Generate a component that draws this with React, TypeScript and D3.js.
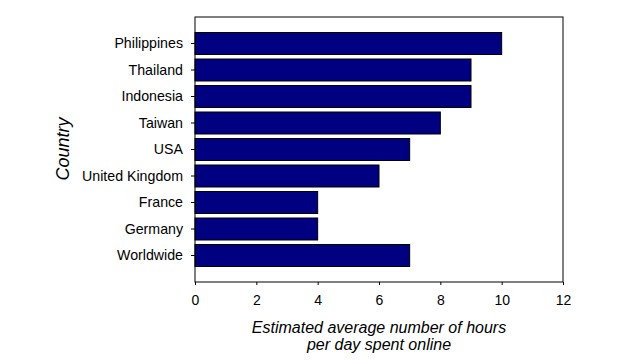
import * as d3 from 'd3';
import { useEffect, useRef } from 'react';

// Chart data
const COUNTRIES = [
  'Philippines',
  'Thailand',
  'Indonesia',
  'Taiwan',
  'USA',
  'United Kingdom',
  'France',
  'Germany',
  'Worldwide',
];
const HOURS = [10, 9, 9, 8, 7, 6, 4, 4, 7];
const X_TICKS = [0, 2, 4, 6, 8, 10, 12];

const WIDTH = 619;
const HEIGHT = 361;
const MARGIN = { top: 17, right: 56, bottom: 79, left: 195 };
const FONT = 'Arial, "Liberation Sans", sans-serif';

export default function App() {
  const ref = useRef<SVGSVGElement | null>(null);

  useEffect(() => {
    const svg = d3.select(ref.current);
    svg.selectAll('*').remove();

    const boundsWidth = WIDTH - MARGIN.left - MARGIN.right;
    const boundsHeight = HEIGHT - MARGIN.top - MARGIN.bottom;

    const x = d3.scaleLinear().domain([0, 12]).range([0, boundsWidth]);
    const y = d3
      .scaleBand()
      .domain(COUNTRIES)
      .range([0, boundsHeight])
      .paddingInner(0.17)
      .paddingOuter(0.585);

    const g = svg
      .append('g')
      .attr('transform', `translate(${MARGIN.left},${MARGIN.top})`);

    // bars
    g.selectAll('rect.bar')
      .data(COUNTRIES)
      .join('rect')
      .attr('class', 'bar')
      .attr('x', x(0))
      .attr('y', (d) => y(d) as number)
      .attr('width', (_, i) => x(HOURS[i]) - x(0))
      .attr('height', y.bandwidth())
      .attr('fill', '#000080')
      .attr('stroke', '#000')
      .attr('stroke-width', 1);

    // frame
    g.append('rect')
      .attr('x', 0)
      .attr('y', 0)
      .attr('width', boundsWidth)
      .attr('height', boundsHeight)
      .attr('fill', 'none')
      .attr('stroke', '#000')
      .attr('stroke-width', 1);

    // x axis
    const xAxis = g
      .append('g')
      .attr('transform', `translate(0,${boundsHeight})`)
      .call(d3.axisBottom(x).tickValues(X_TICKS).tickSize(3).tickPadding(10));
    xAxis.select('.domain').remove();
    xAxis
      .selectAll('text')
      .attr('font-family', FONT)
      .attr('font-size', 14)
      .attr('fill', '#000');

    // y axis
    const yAxis = g
      .append('g')
      .call(d3.axisLeft(y).tickSize(4).tickPadding(8));
    yAxis.select('.domain').remove();
    yAxis
      .selectAll('text')
      .attr('font-family', FONT)
      .attr('font-size', 14.2)
      .attr('fill', '#000');

    // axis titles
    const cx = MARGIN.left + boundsWidth / 2;
    const xTitle = svg
      .append('text')
      .attr('y', 333)
      .attr('text-anchor', 'middle')
      .attr('font-family', FONT)
      .attr('font-size', 16)
      .attr('font-style', 'italic');
    xTitle.append('tspan').attr('x', cx).text('Estimated average number of hours');
    xTitle.append('tspan').attr('x', cx).attr('dy', 17).text('per day spent online');

    svg
      .append('text')
      .attr('transform', `translate(69,149) rotate(-90)`)
      .attr('text-anchor', 'middle')
      .attr('font-family', FONT)
      .attr('font-size', 18)
      .attr('font-style', 'italic')
      .text('Country');
  }, []);

  return (
    <svg
      ref={ref}
      width={WIDTH}
      height={HEIGHT}
      style={{ position: 'absolute', left: 0, top: 0, background: '#fff' }}
    />
  );
}
